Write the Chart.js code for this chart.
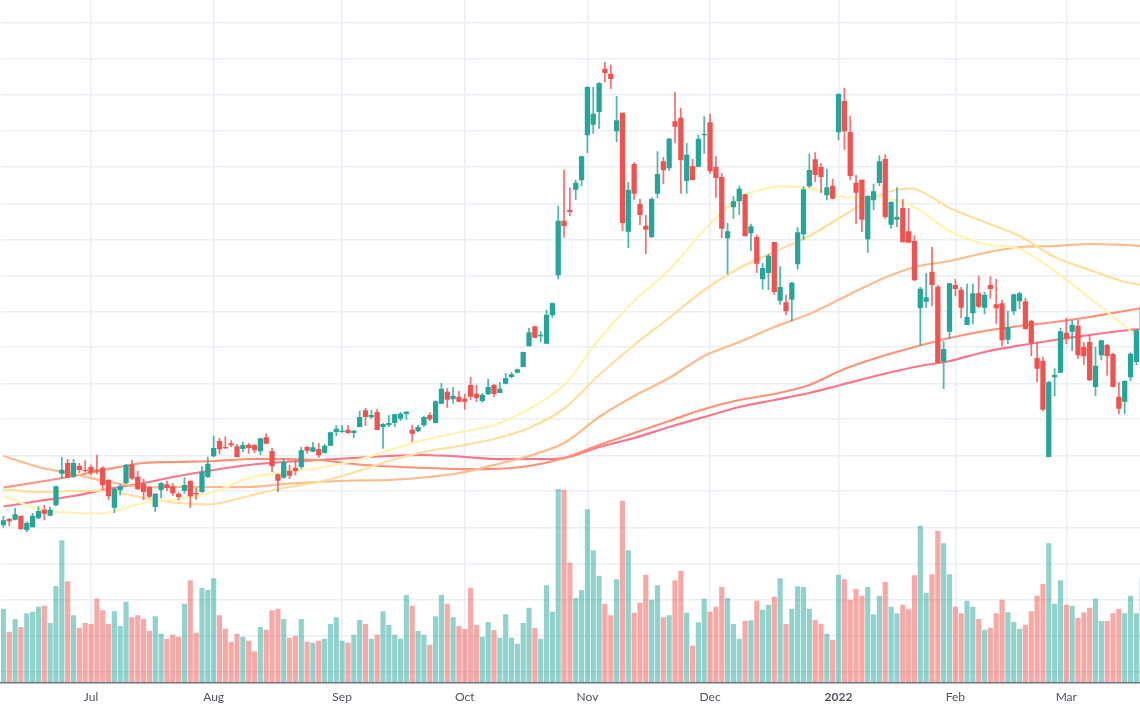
<!DOCTYPE html>
<html>
<head>
<meta charset="utf-8">
<title>Chart</title>
<script src="https://cdn.jsdelivr.net/npm/chart.js@4"></script>
<style>
  html, body { margin: 0; padding: 0; background: #fff; overflow: hidden; }
  #wrap { width: 1140px; height: 710px; overflow: hidden; }
</style>
</head>
<body>
<div id="wrap"><canvas id="myChart" width="1146" height="710"></canvas></div>
<script>
const opens = [
  158, 163.7, 163.7, 167, 153.3, 156, 165, 173, 167.7, 178,
  209.7, 219.7, 206.7, 217, 213, 215.7, 213, 215, 202.7, 175.7,
  193, 200, 218, 206, 198.7, 195.7, 176.3, 193.3, 198.3, 196.3,
  189, 192.3, 201.7, 189.7, 191.3, 206.3, 227, 241.7, 235.7, 239.3,
  236.3, 234.3, 238, 237.7, 232, 245.3, 231.7, 208.3, 205.7, 212,
  215, 216.3, 235.7, 231.7, 233.7, 230.7, 237.7, 251.3, 251.3, 253,
  250.3, 256.3, 272.3, 266, 270.7, 256.3, 258.3, 260.3, 264.7, 269.3,
  253, 252, 258, 267.7, 260.3, 279.7, 291, 284, 286, 284,
  297.7, 289, 282.3, 289, 297.7, 290.3, 299.7, 306.3, 310.7, 316.3,
  337, 356.3, 347, 339.7, 368, 408, 462, 472.7, 493.7, 503,
  548, 558.7, 571.3, 614, 609, 552, 570, 451.7, 518.7, 478.7,
  457, 446, 489.7, 521.3, 515, 561.3, 565, 502.3, 516.7, 516.7,
  548, 560.3, 515.7, 505.7, 445, 476, 482, 488.3, 450, 445.7,
  404, 410.3, 440.7, 382.7, 380.3, 383.7, 419, 449, 497, 523.3,
  515.7, 488, 497, 551, 581.7, 550.7, 500, 503, 444, 483,
  500.3, 523.7, 458.7, 463.7, 474.7, 451.3, 441.7, 375, 381.7, 410.7,
  396, 321.7, 351.7, 397.7, 393, 358.3, 370, 389.3, 375.7, 397.7,
  378.3, 379.3, 343.7, 372, 382, 381.3, 362, 324.7, 322, 226.3,
  306, 310.7, 350, 351.7, 357, 335.7, 340.7, 296.3, 328, 337.7,
  328.7, 286, 281.7, 306, 321.3, 354.7
];
const highs = [
  167, 164.7, 174.7, 167, 161.3, 169.7, 176.3, 177.7, 175.7, 197,
  225.7, 223.7, 223.7, 219.7, 222.3, 218, 228, 216.3, 203.7, 195,
  198.7, 218.7, 222.7, 212, 203.7, 196.3, 189.7, 200.3, 202, 199.7,
  190.3, 205.3, 203, 194.7, 216.3, 226, 247, 244.7, 246.3, 242.3,
  238.7, 241, 239.7, 238.3, 244.7, 249.3, 234.7, 209, 224.7, 218,
  221.3, 236, 237, 240.7, 239.7, 238.7, 251, 257.3, 257.3, 257.7,
  252.7, 272, 274.7, 273, 273.7, 259.7, 267.7, 269, 271, 271.7,
  257.7, 258, 267, 270.3, 282.3, 299.7, 294.7, 295.7, 291.7, 288.7,
  305.7, 298, 289.7, 304, 298.7, 300.7, 309.7, 310.7, 314, 331,
  354.7, 356.3, 351.3, 373, 380, 477, 513, 495.3, 503, 527,
  596.3, 595.7, 600.3, 620.7, 618, 586.7, 570, 500.7, 520.3, 483.7,
  468, 485.3, 531.3, 525.7, 544.7, 590.7, 574.7, 539.7, 523.7, 548,
  566.3, 569, 526.3, 509.7, 459.7, 486.3, 497, 489, 459, 448,
  419.7, 429, 440.7, 416.3, 388, 401, 455.3, 496.3, 529, 530.3,
  519.7, 514, 504, 589.3, 594.7, 567, 507.7, 503, 487.3, 499,
  527.3, 528.3, 481.3, 495.3, 483.7, 474.7, 447.3, 395.7, 409.7, 435.7,
  398, 341.3, 400, 403.7, 395.7, 399, 399, 407, 391, 406.3,
  403.7, 383, 372, 389, 391, 385, 363, 340.3, 326, 301.3,
  314.3, 355, 364.7, 363, 363, 340.3, 348, 336, 343, 339,
  329.7, 300.7, 302.3, 330.3, 353.7, 379
];
const lows = [
  155.7, 157, 163, 154, 151.3, 156, 164.3, 163, 167, 177,
  204.7, 205.7, 205.7, 210.3, 211, 208, 209, 193, 183, 170.3,
  188, 199.3, 203.7, 193.7, 183, 185.3, 171.7, 185, 192.3, 187.7,
  183, 189.7, 175.3, 183.7, 190.7, 205.3, 226.3, 229, 234.3, 236.3,
  226, 231.3, 229.7, 230.3, 228, 239, 211.3, 191.3, 204.7, 204.3,
  208, 214.3, 229.7, 231, 225.7, 229.7, 237, 247, 250.7, 249.7,
  245.3, 256, 257.3, 264.7, 253.3, 234.7, 256.3, 256.3, 262.3, 263.7,
  241.3, 251, 256.3, 262.3, 260, 279, 275.7, 279.7, 281, 273.7,
  283.3, 281.3, 280.7, 288.3, 286.3, 290, 299, 305, 310, 316.3,
  337, 345.7, 341.3, 339.7, 365.7, 404, 445.7, 467.3, 483.7, 497.3,
  530.3, 549.7, 554.7, 601, 594.3, 541, 452.3, 435.3, 483.7, 458.3,
  429.3, 445.7, 485, 499, 512.3, 540.3, 489.7, 489.7, 503.3, 516,
  529.7, 509.7, 485.7, 445.3, 409, 464.7, 468.3, 447, 432.3, 410.3,
  393.7, 393, 388.7, 378.7, 368, 362.3, 413.7, 443, 495.3, 501.3,
  490.3, 483, 484, 543, 533.7, 503, 459.7, 451.3, 430.3, 473,
  497.3, 464.3, 454.7, 456.3, 441, 440.7, 402, 338, 375.3, 377,
  320, 294.3, 344.7, 387, 365, 358.3, 359, 375, 369, 384.7,
  359.7, 337, 339, 368.3, 374, 353.7, 327, 301, 272, 226,
  287, 310.7, 339, 332.3, 324.3, 318.3, 302.3, 287.3, 323, 307.7,
  296, 269, 269, 302, 318, 350
];
const closes = [
  162.3, 162, 168.3, 154, 159.7, 167, 171.7, 169.7, 173, 196.3,
  213, 205.7, 219.7, 213.3, 212.3, 210.7, 212, 198, 187, 193.7,
  196.7, 218, 204.7, 194, 191.3, 186.7, 189, 199.7, 195.3, 190,
  186.3, 197.7, 187, 189, 211, 219, 234.7, 234, 235, 238,
  226.3, 237.7, 235.3, 233, 244.3, 239.7, 217, 202.7, 220.3, 207.7,
  212.3, 232.3, 232.7, 235.3, 228, 237, 250.3, 254, 252, 250.3,
  252, 265.7, 266.3, 267.7, 253.3, 258.7, 259.7, 268.3, 269, 271,
  249.7, 255.7, 265.7, 264, 281.3, 294, 283.7, 287, 281.7, 281.7,
  286.7, 285.3, 288, 295.7, 289.3, 294, 304.7, 308.3, 313.3, 330.7,
  350.3, 345.7, 348, 368, 379.7, 462, 457.3, 471.3, 500, 526.3,
  595.7, 569, 599.7, 610.3, 604.3, 562.3, 460.3, 493, 489.7, 468.3,
  453.7, 483.7, 508.7, 513, 544, 556.7, 523, 528, 503.3, 544,
  548.7, 512, 505.3, 454.7, 451.3, 481.3, 494, 447, 456.3, 419.7,
  414.7, 427, 391.3, 395.7, 372, 400, 450.3, 493.3, 512.7, 508.3,
  506.3, 495.3, 484.7, 588.7, 552, 507.3, 490.7, 463.7, 486.7, 491.3,
  521.3, 466.3, 480.7, 466, 441, 440.7, 403, 394, 385.3, 398.3,
  320.3, 333.7, 399.3, 394.3, 375.7, 365.7, 389.3, 376.7, 388, 394.3,
  375, 343, 355.3, 388.3, 389.3, 354.3, 340.3, 314.7, 273.7, 300.7,
  307.7, 351.3, 345, 358, 328, 327, 303, 317, 342.3, 327.3,
  296.3, 274.7, 301.7, 329, 352.3, 376.3
];
const volumes = [
  74, 51, 63.7, 55.7, 69.3, 71, 76, 77, 59.7, 96.7,
  142.3, 101.3, 67.3, 55, 59.7, 58.7, 84, 72.3, 58.7, 71.3,
  56.7, 81, 65.3, 67.3, 63.7, 52, 66.3, 49, 44, 48,
  46, 79, 102.3, 50, 94.7, 92.7, 104.3, 67.3, 54, 41,
  49, 46, 42, 31.3, 55.7, 53, 72.3, 74, 63.7, 45,
  47, 63.7, 41, 40, 42, 44, 58.7, 65.3, 42, 40,
  48, 62.7, 58.7, 44, 48, 71.3, 57.7, 48, 44, 87.7,
  77, 51.7, 48, 38, 66.3, 87.7, 79, 65.3, 56.7, 53.7,
  94.7, 57.7, 46, 60.7, 52.7, 45, 68.3, 45, 39, 59.7,
  75, 54.7, 44, 97.5, 71, 193.7, 193, 120, 84.7, 92.7,
  173.3, 132.3, 107, 79, 67.3, 103.3, 182, 132.3, 70, 80,
  108, 83, 97.3, 65.3, 67.3, 102.3, 112, 70, 37, 60.3,
  84, 71, 76, 95.7, 84.7, 58.7, 44, 61.7, 62.3, 82,
  73, 78, 86, 104.3, 58.7, 74, 96.3, 95.7, 74, 62.7,
  58.7, 49, 43, 108, 103.3, 83, 93.7, 87, 95.7, 68.3,
  87, 100.7, 76, 69.3, 78, 73.3, 107.3, 157, 90, 108.3,
  152, 139.3, 108.3, 76, 69.3, 82, 76, 63.7, 53, 55,
  69.3, 83, 70.3, 60.7, 54, 58, 71.3, 87, 98.7, 139.3,
  79, 102.3, 78, 77, 64.7, 70.3, 75, 84, 61.7, 61.7,
  69.3, 74, 69.3, 87, 69.3, 104.7
];

// moving averages are read every sixth session, the last one at the right edge
const maSessions = [
  0, 6, 12, 18, 24, 30, 36, 42, 48, 54, 60, 66, 72, 78, 84, 90, 96,
  102, 108, 114, 120, 126, 132, 138, 144, 150, 156, 162, 168, 174, 180, 186, 192, 195
];
const ma1 = [
  187, 174, 170, 170.5, 180, 184, 191, 205, 210.5, 215, 222, 232.5, 243, 250.5, 258, 274, 298,
  344, 382, 413, 453, 485, 496, 494.5, 486, 486, 476, 452, 439, 434, 412, 385, 357, 343
];
const ma2 = [
  193.5, 191, 192, 192, 185, 180, 179, 187, 195, 201, 210.5, 222, 231, 237, 244, 255, 274.5,
  308, 338, 365, 393, 415, 431, 447, 468, 488, 494, 475, 461, 447, 426, 413, 401, 398
];
const ma3 = [
  227, 216, 209, 201, 196, 196, 196, 196, 199, 201, 202.5, 203, 205.5, 210, 218, 227, 240,
  266, 287, 305, 327, 341, 356, 369, 386, 403, 416, 422, 430, 436, 437, 439, 438, 437
];
const ma4 = [
  195.5, 201, 207, 214, 220, 221, 222, 224, 224, 223, 219, 216.5, 215, 214, 214, 217, 225,
  238, 250, 262, 274, 283, 289, 298, 314, 326, 336, 345, 352, 357, 361, 366, 372, 375
];
const ma5 = [
  176.5, 182, 187, 194, 200, 207, 213, 218, 221, 223, 225, 227, 228, 226.5, 224, 224, 225,
  236, 245, 256, 266, 276, 283, 290, 299, 308, 316, 322, 331, 337.5, 343, 348, 352.5, 354
];

const tickLabels = ["Jul", "Aug", "Sep", "Oct", "Nov", "Dec", "2022", "Feb", "Mar"];
const tickSessions = [15, 36, 58, 79, 100, 121, 143, 163, 182];
const priceLines = [
  11.7, 47.7, 83.7, 119.7, 155.7, 191.7, 227.7, 263.7, 299.7, 335.7,
  371.7, 407.7, 443.7, 479.7, 515.7, 551.7, 587.7, 623.7, 659.7
];

const UP = "#26a69a";
const DOWN = "#ef5350";
const GRID = "#e9eff5";

const categories = opens.map((_, i) => i);
const candleColors = opens.map((o, i) => (closes[i] >= o ? UP : DOWN));
const wickColors = opens.map((o, i) =>
  closes[i] >= o ? "rgba(38,166,154,0.8)" : "rgba(239,83,80,0.8)"
);
const volumeColors = opens.map((o, i) =>
  closes[i] >= o ? "rgba(38,166,154,0.5)" : "rgba(239,83,80,0.5)"
);

function maSeries(values) {
  const out = categories.map(() => null);
  maSessions.forEach((s, i) => {
    out[s] = values[i];
  });
  return out;
}

function maDataset(values, color) {
  return {
    type: "line",
    data: maSeries(values),
    borderColor: color,
    borderWidth: 2.2,
    pointRadius: 0,
    spanGaps: true,
    tension: 0.3,
    yAxisID: "y",
    order: 3,
  };
}

const ctx = document.getElementById("myChart").getContext("2d");
new Chart(ctx, {
  data: {
    labels: categories,
    datasets: [
      {
        type: "bar",
        data: opens.map((o, i) => [o, closes[i]]),
        backgroundColor: candleColors,
        barThickness: 4.6,
        grouped: false,
        yAxisID: "y",
        order: 1,
      },
      {
        type: "bar",
        data: lows.map((l, i) => [l, highs[i]]),
        backgroundColor: wickColors,
        barThickness: 1.1,
        grouped: false,
        yAxisID: "y",
        order: 2,
      },
      maDataset(ma1, "#fff3b0"),
      maDataset(ma2, "#ffdf9e"),
      maDataset(ma3, "#ffba8c"),
      maDataset(ma4, "#ff9176"),
      maDataset(ma5, "#ff7488"),
      {
        type: "bar",
        data: volumes,
        backgroundColor: volumeColors,
        barThickness: 4.5,
        grouped: false,
        yAxisID: "vol",
        order: 4,
      },
    ],
  },
  options: {
    responsive: false,
    animation: false,
    layout: { padding: { left: 0.5, right: 0.86, top: 0, bottom: 0 } },
    plugins: { legend: { display: false }, tooltip: { enabled: false } },
    scales: {
      x: {
        type: "category",
        offset: true,
        grid: { offset: false, color: GRID, lineWidth: 1.6, drawTicks: false },
        border: { display: true, color: "#6f7480", width: 1.5, z: 1 },
        afterBuildTicks: (scale) => {
          scale.ticks = tickSessions.map((s) => ({ value: s }));
        },
        afterFit: (scale) => {
          scale.height = 27;
        },
        ticks: {
          autoSkip: false,
          maxRotation: 0,
          padding: 7,
          color: "#50535e",
          font: (c) => ({
            family: "Lato",
            size: 12,
            weight: tickLabels[c.index] === "2022" ? "bold" : "normal",
          }),
          callback: (value, index) => tickLabels[index],
        },
      },
      y: {
        min: 0,
        max: 683,
        grid: { color: GRID, lineWidth: 1.6, drawTicks: false },
        border: { display: false },
        afterBuildTicks: (scale) => {
          scale.ticks = priceLines.map((v) => ({ value: v }));
        },
        afterFit: (scale) => {
          scale.width = 0;
        },
        ticks: { display: false },
      },
      vol: {
        min: 0,
        max: 683,
        display: false,
      },
    },
  },
});
</script>
</body>
</html>
